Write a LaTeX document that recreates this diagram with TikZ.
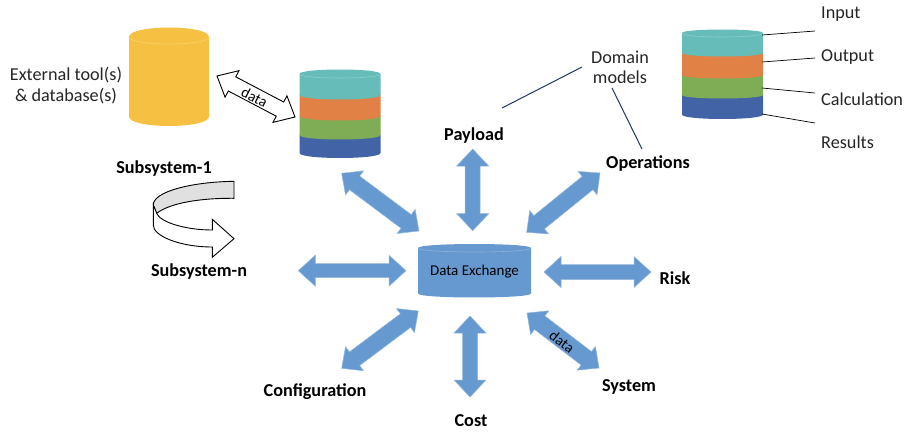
\documentclass[tikz,border=0pt]{standalone}
\usepackage{fontspec}
\setmainfont{Carlito}
\usetikzlibrary{calc}
\definecolor{cyellow}{HTML}{F6C142}
\definecolor{cteal}{HTML}{65BCB8}
\definecolor{corange}{HTML}{E28145}
\definecolor{cgreen}{HTML}{7FAD55}
\definecolor{cblue}{HTML}{4264A6}
\definecolor{carrow}{HTML}{6699CF}
\definecolor{cnavy}{HTML}{1F3864}
\definecolor{ctext}{HTML}{262626}
\tikzset{
  plain/.style={font=\fontsize{18.2}{20}\selectfont,text=ctext,inner sep=0pt},
  bold/.style={font=\fontsize{18.2}{20}\selectfont\bfseries,text=black,inner sep=0pt},
  small/.style={font=\fontsize{15}{17}\selectfont,text=black,inner sep=0pt},
  blueband/.style={fill=carrow,draw=carrow!70!white,line width=.5pt},
  whiteband/.style={fill=white,draw=black,line width=.9pt,line join=miter},
  leader/.style={draw=black,line width=.7pt},
  navy/.style={draw=cnavy,line width=1pt},
}
% cylinder segment: x1,x2,ytop,ybottom,ry,colour
\newcommand\cylseg[6]{%
  \path[fill=#6] (#1,#3) -- (#1,#4) .. controls (#1,{#4+1.33*#5}) and (#2,{#4+1.33*#5}) .. (#2,#4) -- (#2,#3)
     .. controls (#2,{#3-1.33*#5}) and (#1,{#3-1.33*#5}) .. cycle;}
\newcommand\cyltop[5]{%
  \draw[#5!75!white,line width=.6pt] (#1,#3) .. controls (#1,{#3+1.33*#4}) and (#2,{#3+1.33*#4}) .. (#2,#3);}
% double arrow: style, A, B, head half width, shaft half width, head length
\newcommand\dblarrow[6]{%
  \path[#1] (#2)
   -- ($($(#2)!#6pt!(#3)$)!#4pt!90:(#3)$)
   -- ($($(#2)!#6pt!(#3)$)!#5pt!90:(#3)$)
   -- ($($(#3)!#6pt!(#2)$)!#5pt!-90:(#2)$)
   -- ($($(#3)!#6pt!(#2)$)!#4pt!-90:(#2)$)
   -- (#3)
   -- ($($(#3)!#6pt!(#2)$)!#4pt!90:(#2)$)
   -- ($($(#3)!#6pt!(#2)$)!#5pt!90:(#2)$)
   -- ($($(#2)!#6pt!(#3)$)!#5pt!-90:(#3)$)
   -- ($($(#2)!#6pt!(#3)$)!#4pt!-90:(#3)$)
   -- cycle;}
\begin{document}
\begin{tikzpicture}[x=1pt,y=-1pt]
\useasboundingbox[fill=white] (0,0) rectangle (906,432);

% yellow cylinder
\cylseg{129}{209}{37}{116.5}{9.5}{cyellow}
\cyltop{129}{209}{37}{7}{cyellow}

% left stack
\cylseg{299.5}{380.5}{135}{153}{5}{cblue}
\cylseg{299.5}{380.5}{116}{135}{4.5}{cgreen}
\cylseg{299.5}{380.5}{95}{116}{4.5}{corange}
\cylseg{299.5}{380.5}{74}{95}{4.5}{cteal}
\cyltop{299.5}{380.5}{74}{4}{cteal}

% right stack
\cylseg{682}{763}{95}{114.5}{4.5}{cblue}
\cylseg{682}{763}{75}{95}{3.5}{cgreen}
\cylseg{682}{763}{53}{75}{3.5}{corange}
\cylseg{682}{763}{33}{53}{3.5}{cteal}
\cyltop{682}{763}{33}{4}{cteal}

% data exchange cylinder
\cylseg{418}{531}{248}{293.5}{4}{carrow}
\cyltop{418}{531}{248}{4}{carrow}
\node[small] (dx) at (474.5,272) {Data Exchange};

% arrow end points
\coordinate (subT) at (341.7,173.3); \coordinate (subE) at (419,231);
\coordinate (payT) at (472.7,149);   \coordinate (payE) at (472.7,230.7);
\coordinate (opsT) at (600,173);     \coordinate (opsE) at (526.7,232.3);
\coordinate (lefT) at (298.3,270.7); \coordinate (lefE) at (406,270.7);
\coordinate (rskT) at (651,272);     \coordinate (rskE) at (544,272);
\coordinate (cfgT) at (341.7,368.3); \coordinate (cfgE) at (418.3,311);
\coordinate (cstT) at (470,397);     \coordinate (cstE) at (470,316);
\coordinate (sysT) at (599,368);     \coordinate (sysE) at (527,313);
\coordinate (dtA)  at (217,76);      \coordinate (dtB)  at (295,117);

\dblarrow{blueband}{subT}{subE}{15}{8.5}{16}
\dblarrow{blueband}{payT}{payE}{16}{7.5}{17}
\dblarrow{blueband}{opsT}{opsE}{15}{8.5}{16}
\dblarrow{blueband}{lefT}{lefE}{15.5}{7}{17}
\dblarrow{blueband}{rskT}{rskE}{15.5}{7.5}{17}
\dblarrow{blueband}{cfgT}{cfgE}{15}{8.5}{16}
\dblarrow{blueband}{cstT}{cstE}{16}{7.5}{17}
\dblarrow{blueband}{sysT}{sysE}{15}{8.5}{16}
\dblarrow{whiteband}{dtA}{dtB}{15}{8}{17}

\node[small,rotate=-27] (d1) at (254.5,97) {data};
\node[small,rotate=-38] (d2) at (562,342) {data};

% curved arrow
\path[whiteband,fill=black!12] (234,181.3) .. controls (190,182) and (153,192) .. (153.3,205)
   -- (156.7,213.3) .. controls (170,203) and (200,198) .. (234,198.3) -- cycle;
\path[whiteband] (153.3,205) -- (153.3,225) .. controls (153,236) and (180,247) .. (212.3,247)
   -- (212.3,257.3) -- (234,238.7) -- (212.3,219.3) -- (212.3,230)
   .. controls (185,230) and (160,222) .. (156.7,213.3) -- cycle;

% texts
\node[plain] (ext1) at (66,75) {External tool(s)};
\node[plain] (ext2) at (66,96) {\& database(s)};
\node[bold] (s1) at (164,169) {Subsystem-1};
\node[bold] (sn) at (199,272) {Subsystem-n};
\node[bold] (pay) at (474,136) {Payload};
\node[bold] (ops) at (648,164) {Operations};
\node[bold] (rsk) at (675,278) {Risk};
\node[bold] (sys) at (629,387) {System};
\node[bold] (cst) at (471,421) {Cost};
\node[bold] (cfg) at (315,392) {Configuration};
\node[plain] (dm1) at (620,57) {Domain};
\node[plain] (dm2) at (620,77) {models};
\node[plain,anchor=west] (inp) at (821,14) {Input};
\node[plain,anchor=west] (out) at (821,57) {Output};
\node[plain,anchor=west] (cal) at (821,99) {Calculation};
\node[plain,anchor=west] (res) at (821,142) {Results};

% leader lines
\coordinate (l1a) at (762,35);  \coordinate (l1b) at (815,31);
\coordinate (l2a) at (762,62);  \coordinate (l2b) at (815,58);
\coordinate (l3a) at (762,88);  \coordinate (l3b) at (815,93);
\coordinate (l4a) at (762,114); \coordinate (l4b) at (815,123);
\draw[leader] (l1a) -- (l1b);
\draw[leader] (l2a) -- (l2b);
\draw[leader] (l3a) -- (l3b);
\draw[leader] (l4a) -- (l4b);

\coordinate (n1a) at (502,108); \coordinate (n1b) at (582,67);
\coordinate (n2a) at (612,88);  \coordinate (n2b) at (642,149);
\draw[navy] (n1a) -- (n1b);
\draw[navy] (n2a) -- (n2b);
\end{tikzpicture}
\end{document}
